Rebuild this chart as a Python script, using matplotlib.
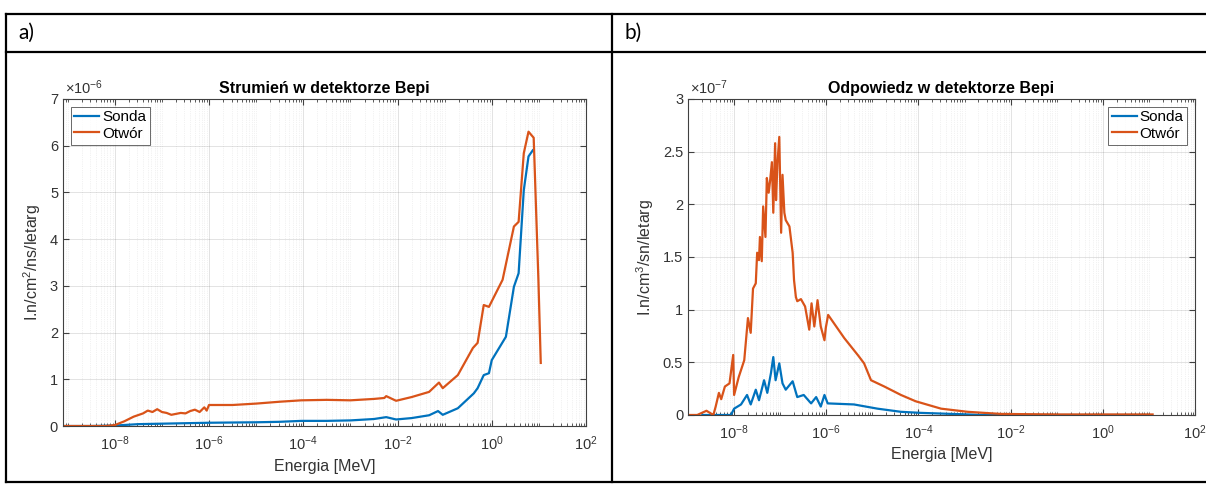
import numpy as np
import matplotlib
matplotlib.use("Agg")
import matplotlib.pyplot as plt
from matplotlib.lines import Line2D
from matplotlib.ticker import FixedLocator, LogLocator, NullFormatter, LogFormatterMathtext

plt.rcParams['font.family'] = ['Liberation Sans', 'DejaVu Sans']
plt.rcParams['mathtext.fontset'] = 'custom'
plt.rcParams['mathtext.rm'] = 'Liberation Sans'
plt.rcParams['mathtext.it'] = 'Liberation Sans'

BLUE = "#0072BD"
ORANGE = "#D95319"

# ---- panel a: Strumien (values x1e-6), x as log10(E [MeV]) ----
a_otwor_logE = [-9.1, -8.6, -8.2, -8.0, -7.8, -7.6, -7.4, -7.3, -7.2, -7.1, -7.0, -6.9, -6.8,
                -6.7, -6.6, -6.5, -6.4, -6.3, -6.2, -6.1, -6.05, -6.0, -5.5, -5.0, -4.5, -4.04,
                -3.5, -3.0, -2.5, -2.28, -2.24, -2.03, -1.7, -1.33, -1.12, -1.04, -0.72,
                -0.4, -0.3, -0.17, -0.06, 0.23, 0.47, 0.57, 0.68, 0.78, 0.89, 0.99, 1.04]
a_otwor = [0.0, 0.0, 0.0, 0.02, 0.1, 0.2, 0.27, 0.33, 0.3, 0.36, 0.3, 0.28, 0.24,
           0.26, 0.28, 0.27, 0.32, 0.35, 0.3, 0.4, 0.33, 0.45, 0.45, 0.48, 0.52, 0.55,
           0.56, 0.55, 0.58, 0.6, 0.64, 0.54, 0.62, 0.73, 0.93, 0.81, 1.09,
           1.67, 1.78, 2.59, 2.55, 3.13, 4.27, 4.37, 5.84, 6.3, 6.17, 3.13, 1.35]

a_sonda_logE = [-9.1, -8.5, -8.0, -7.5, -7.0, -6.5, -6.0, -5.0, -4.5, -4.04, -3.5, -3.0,
                -2.5, -2.24, -2.03, -1.7, -1.33, -1.14, -1.04, -0.72, -0.38, -0.3,
                -0.17, -0.06, 0.0, 0.3, 0.47, 0.57, 0.68, 0.78, 0.87]
a_sonda = [0.0, 0.0, 0.01, 0.04, 0.05, 0.06, 0.07, 0.08, 0.09, 0.11, 0.11, 0.12,
           0.15, 0.19, 0.14, 0.17, 0.23, 0.32, 0.24, 0.38, 0.7, 0.81,
           1.09, 1.13, 1.41, 1.91, 2.98, 3.27, 5.05, 5.77, 5.9]

# ---- panel b: Odpowiedz (values x1e-7) ----
b_otwor_logE = [-9.0, -8.8, -8.6, -8.45, -8.4, -8.33, -8.28, -8.2, -8.1, -8.02, -8.0,
                -7.9, -7.78, -7.7, -7.64, -7.59, -7.53, -7.5, -7.46, -7.44, -7.4,
                -7.37, -7.32, -7.29, -7.25, -7.22, -7.18, -7.15, -7.11, -7.09, -7.06,
                -7.02, -6.98, -6.95, -6.91, -6.88, -6.8, -6.73, -6.7, -6.66, -6.63,
                -6.55, -6.46, -6.37, -6.32, -6.26, -6.19, -6.12, -6.04, -6.01, -5.96,
                -5.61, -5.3, -5.18, -5.03, -4.74, -4.38, -4.06, -3.51, -2.93, -2.21,
                -1.0, 0.0, 1.08]
b_otwor = [0.0, 0.0, 0.04, 0.0, 0.08, 0.21, 0.15, 0.27, 0.3, 0.57, 0.19,
           0.36, 0.52, 0.92, 0.78, 1.2, 1.25, 1.54, 1.47, 1.69, 1.46,
           1.98, 1.69, 2.25, 2.11, 2.22, 2.4, 1.92, 2.58, 2.04, 2.39,
           2.64, 1.73, 2.28, 1.92, 1.85, 1.79, 1.54, 1.28, 1.12, 1.08,
           1.1, 1.03, 0.81, 1.06, 0.84, 1.09, 0.84, 0.71, 0.83, 0.95,
           0.73, 0.56, 0.49, 0.33, 0.27, 0.19, 0.13, 0.06, 0.03, 0.01,
           0.005, 0.005, 0.005]

b_sonda_logE = [-8.69, -8.3, -8.07, -8.0, -7.85, -7.72, -7.64, -7.53, -7.46, -7.35,
                -7.28, -7.2, -7.15, -7.1, -7.02, -6.95, -6.88, -6.73, -6.63, -6.49,
                -6.33, -6.22, -6.12, -6.04, -5.97, -5.4, -4.89, -4.38, -3.95, -2.58,
                -1.0, 1.0]
b_sonda = [0.0, 0.0, 0.0, 0.06, 0.1, 0.19, 0.1, 0.24, 0.14, 0.33,
           0.21, 0.4, 0.55, 0.33, 0.49, 0.3, 0.24, 0.32, 0.17, 0.19,
           0.11, 0.17, 0.08, 0.19, 0.11, 0.1, 0.06, 0.03, 0.02, 0.0,
           0.0, 0.0]

x_major = [1e-8, 1e-6, 1e-4, 1e-2, 1e0, 1e2]


def style_axes(ax, xlim, ylim, yticks, ylabel, title, mult, legend_loc):
    ax.set_xscale('log')
    ax.set_xlim(*xlim)
    ax.set_ylim(*ylim)
    ax.xaxis.set_major_locator(FixedLocator(x_major))
    ax.xaxis.set_major_formatter(LogFormatterMathtext())
    ax.xaxis.set_minor_locator(LogLocator(base=10, subs=np.arange(1, 10), numticks=40))
    ax.xaxis.set_minor_formatter(NullFormatter())
    ax.set_yticks(yticks)
    ax.set_yticklabels([('%g' % v) for v in yticks])
    ax.tick_params(which='both', direction='in', top=True, right=True,
                   colors='#404040', labelcolor='#333333', labelsize=10.5)
    ax.tick_params(axis='x', which='major', pad=6)
    ax.tick_params(which='major', length=4)
    ax.tick_params(which='minor', length=2)
    ax.grid(True, which='major', color='#262626', alpha=0.15, lw=0.6)
    ax.grid(True, which='minor', color='#262626', alpha=0.12, lw=0.5, ls=':')
    for s in ax.spines.values():
        s.set_color('#404040')
        s.set_linewidth(0.8)
    ax.set_xlabel('Energia [MeV]', fontsize=11.5, color='#333333', labelpad=4)
    ax.set_ylabel(ylabel, fontsize=11.5, color='#333333', labelpad=5)
    ax.set_title(title, fontsize=11.5, fontweight='bold', color='black', pad=4)
    ax.text(0.004, 1.005, r'$\times10^{%d}$' % mult, transform=ax.transAxes,
            fontsize=10.5, color='#333333', ha='left', va='bottom')
    leg = ax.legend(loc=legend_loc, fontsize=11, frameon=True, fancybox=False,
                    handlelength=1.6, handletextpad=0.2, borderpad=0.25,
                    labelspacing=0.15, borderaxespad=0.5)
    leg.get_frame().set_edgecolor('#262626')
    leg.get_frame().set_linewidth(0.6)


fig = plt.figure(figsize=(12.06, 4.84), dpi=100)

ax1 = fig.add_axes([0.0522, 0.1198, 0.4337, 0.6757])
ax1.plot(10 ** np.array(a_sonda_logE), a_sonda, color=BLUE, lw=1.6, label='Sonda')
ax1.plot(10 ** np.array(a_otwor_logE), a_otwor, color=ORANGE, lw=1.6, label='Otwór')
style_axes(ax1, (10 ** -9.1, 1e2), (0, 7), [0, 1, 2, 3, 4, 5, 6, 7],
           r'I.n/cm$^2$/ns/letarg', 'Strumień w detektorze Bepi', -6, 'upper left')

ax2 = fig.add_axes([0.5705, 0.1426, 0.4204, 0.6529])
ax2.plot(10 ** np.array(b_sonda_logE), b_sonda, color=BLUE, lw=1.6, label='Sonda')
ax2.plot(10 ** np.array(b_otwor_logE), b_otwor, color=ORANGE, lw=1.6, label='Otwór')
style_axes(ax2, (1e-9, 1e2), (0, 3), [0, 0.5, 1, 1.5, 2, 2.5, 3],
           r'I.n/cm$^3$/sn/letarg', 'Odpowiedz w detektorze Bepi', -7, 'upper right')

# table frame around the two panels
W, H = 1206.0, 484.0
def hline(y, x0=6, x1=1206):
    fig.add_artist(Line2D([x0 / W, x1 / W], [1 - y / H, 1 - y / H], color='black', lw=1.6))
def vline(x, y0=14, y1=482):
    fig.add_artist(Line2D([x / W, x / W], [1 - y0 / H, 1 - y1 / H], color='black', lw=1.6))

hline(14)
hline(52)
hline(482)
vline(6)
vline(612)

fig.text(18 / W, 1 - 33 / H, 'a)', fontsize=15, ha='left', va='center', family='Lato')
fig.text(625 / W, 1 - 33 / H, 'b)', fontsize=15, ha='left', va='center', family='Lato')

fig.savefig('out.png', dpi=100)
